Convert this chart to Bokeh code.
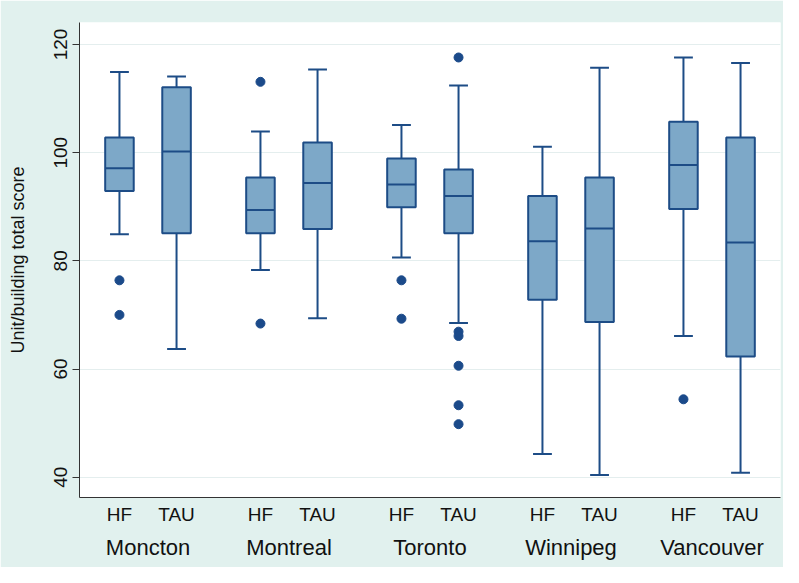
from bokeh.plotting import figure
from bokeh.models import FactorRange, Range1d, ColumnDataSource, FixedTicker, CategoricalAxis
from bokeh.transform import dodge
from bokeh.embed import file_html
from bokeh.resources import INLINE

# ---- data ----
cities = ["Moncton", "Montreal", "Toronto", "Winnipeg", "Vancouver"]
groups = ["HF", "TAU"]

# order: Moncton HF, Moncton TAU, Montreal HF, Montreal TAU, ...
whisker_low = [84.9, 63.7, 78.3, 69.4, 80.6, 68.5, 44.3, 40.4, 66.1, 40.8]
q1          = [92.9, 85.1, 85.1, 85.9, 89.9, 85.1, 72.8, 68.7, 89.6, 62.3]
median      = [97.1, 100.2, 89.4, 94.4, 94.1, 92.0, 83.6, 86.0, 97.7, 83.4]
q3          = [102.8, 112.1, 95.4, 101.9, 98.9, 96.9, 92.0, 95.4, 105.7, 102.8]
whisker_high = [114.9, 114.1, 103.9, 115.4, 105.1, 112.4, 101.1, 115.7, 117.6, 116.6]

outlier_city  = ["Moncton", "Moncton", "Montreal", "Montreal", "Toronto", "Toronto",
                 "Toronto", "Toronto", "Toronto", "Toronto", "Toronto", "Toronto", "Vancouver"]
outlier_group = ["HF", "HF", "HF", "HF", "HF", "HF",
                 "TAU", "TAU", "TAU", "TAU", "TAU", "TAU", "HF"]
outlier_value = [76.4, 70.0, 113.1, 68.4, 76.4, 69.3,
                 117.6, 66.9, 66.1, 60.6, 53.3, 49.8, 54.4]

y_ticks = [40, 60, 80, 100, 120]

# ---- build ----
factors = [(c, g) for c in cities for g in groups]
src = ColumnDataSource(dict(x=factors, lo=whisker_low, q1=q1, med=median,
                            q3=q3, hi=whisker_high))
out_src = ColumnDataSource(dict(x=list(zip(outlier_city, outlier_group)), y=outlier_value))

x_range = FactorRange(factors=factors, group_padding=0.47,
                      range_padding=0.2, range_padding_units="absolute")

BG = "#E1F1EE"
LINE = "#1D4C86"
FILL = "#7DA8C8"
DOT = "#1B4A8A"
FONT = "Liberation Sans"

p = figure(width=783, height=567, x_range=x_range, y_range=Range1d(36.24, 124.07),
           output_backend="svg", toolbar_location=None,
           min_border_left=79, min_border_right=3, min_border_top=22, min_border_bottom=70)
p.border_fill_color = BG
p.background_fill_color = "white"
p.outline_line_color = None

# second row of x labels (city names), aligned with group centres
p.extra_x_ranges = {"cities": FactorRange(factors=cities, factor_padding=1.0,
                                          range_padding=0.472, range_padding_units="absolute")}

# grid
p.xgrid.grid_line_color = None
p.ygrid.grid_line_color = "#E4EEEE"
p.ygrid.grid_line_width = 1
p.ygrid.ticker = FixedTicker(ticks=y_ticks)

# whisker stems
p.segment(x0="x", x1="x", y0="lo", y1="q1", source=src, line_color=LINE, line_width=2)
p.segment(x0="x", x1="x", y0="q3", y1="hi", source=src, line_color=LINE, line_width=2)
# caps
p.segment(x0=dodge("x", -0.165, range=x_range), x1=dodge("x", 0.165, range=x_range),
          y0="lo", y1="lo", source=src, line_color=LINE, line_width=2)
p.segment(x0=dodge("x", -0.165, range=x_range), x1=dodge("x", 0.165, range=x_range),
          y0="hi", y1="hi", source=src, line_color=LINE, line_width=2)
# boxes
p.vbar(x="x", width=0.5, bottom="q1", top="q3", source=src,
       fill_color=FILL, line_color=LINE, line_width=2)
# medians
p.segment(x0=dodge("x", -0.25, range=x_range), x1=dodge("x", 0.25, range=x_range),
          y0="med", y1="med", source=src, line_color=LINE, line_width=2)
# outliers
p.scatter(x="x", y="y", source=out_src, size=9, fill_color=DOT, line_color=DOT)

# y axis
ya = p.yaxis[0]
ya.ticker = FixedTicker(ticks=y_ticks)
ya.axis_label = "Unit/building total score"
ya.axis_label_text_font = FONT
ya.axis_label_text_font_size = "18px"
ya.axis_label_text_font_style = "normal"
ya.axis_label_text_color = "#111111"
ya.axis_label_standoff = 24
ya.major_label_orientation = "vertical"
ya.major_label_text_font = FONT
ya.major_label_text_font_size = "19px"
ya.major_label_text_color = "#111111"
ya.major_label_standoff = 5
ya.major_tick_out = 7
ya.major_tick_in = 0
ya.minor_tick_line_color = None
ya.major_tick_line_color = "#333333"
ya.axis_line_color = "#333333"

# x axis (HF / TAU row)
xa = p.xaxis[0]
xa.major_tick_line_color = None
xa.minor_tick_line_color = None
xa.axis_line_color = "#333333"
xa.major_label_text_font = FONT
xa.major_label_text_font_size = "19px"
xa.major_label_text_color = "#111111"
xa.major_label_standoff = 0
xa.group_text_font_size = "1px"
xa.group_text_alpha = 0
xa.separator_line_color = None

# x axis (city row)
xa2 = CategoricalAxis(x_range_name="cities")
xa2.axis_line_color = None
xa2.major_tick_line_color = None
xa2.minor_tick_line_color = None
xa2.major_label_text_font = FONT
xa2.major_label_text_font_size = "22px"
xa2.major_label_text_color = "#111111"
xa2.major_label_standoff = 1
p.add_layout(xa2, "below")

open("out.html", "w").write(file_html(p, INLINE))
